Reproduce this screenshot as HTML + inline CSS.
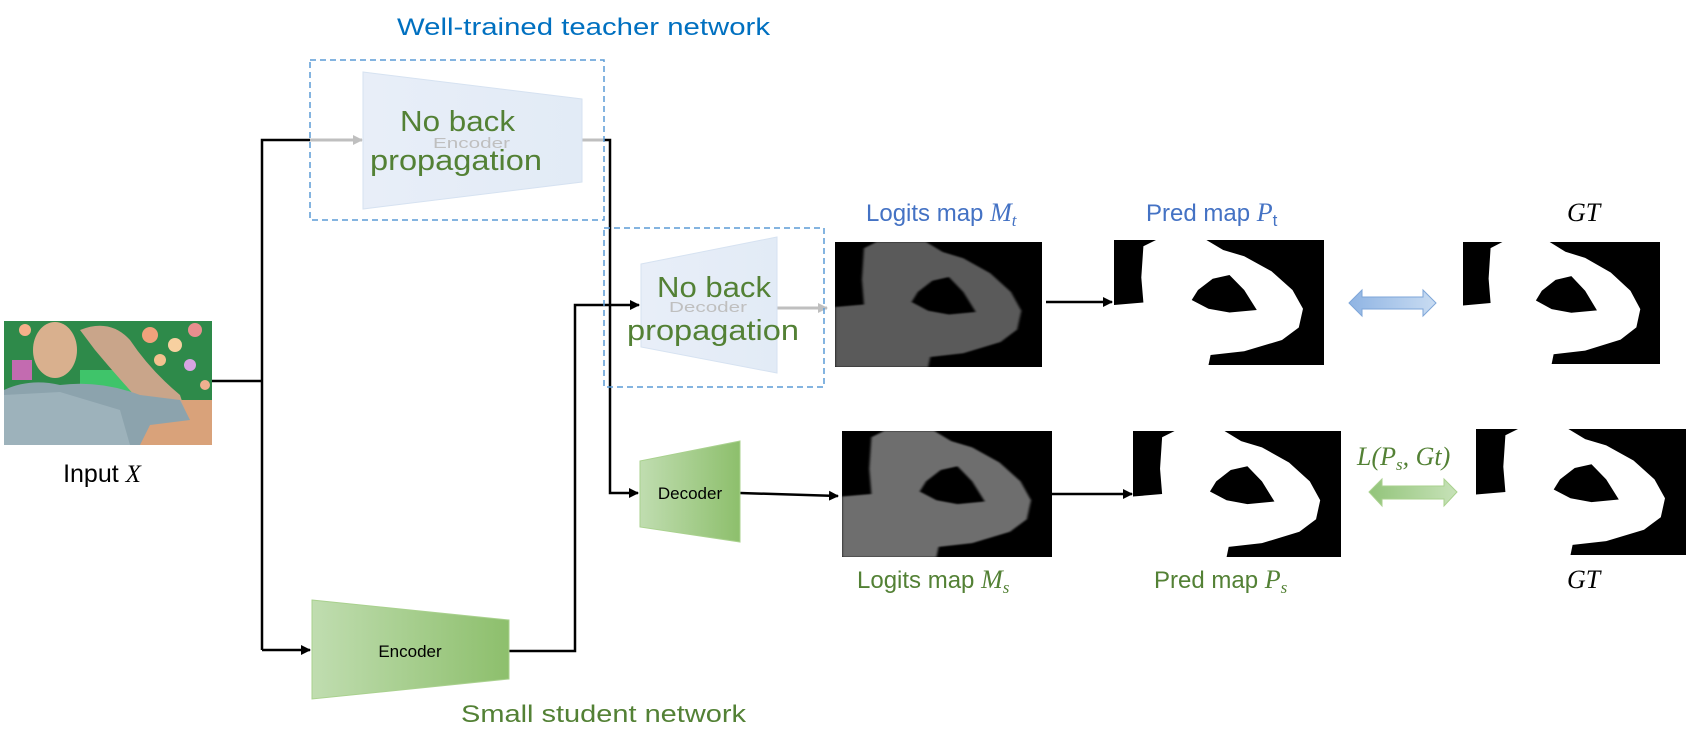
<!DOCTYPE html>
<html><head><meta charset="utf-8"><style>
html,body{margin:0;padding:0;background:#fff;}
svg{display:block;}
text{font-family:"Liberation Sans",sans-serif;}
.m{font-family:"Liberation Serif",serif;font-style:italic;}
</style></head><body>
<svg width="1692" height="746" viewBox="0 0 1692 746" xmlns="http://www.w3.org/2000/svg">
<defs>
<marker id="ab" markerWidth="10" markerHeight="10" refX="9" refY="5" orient="auto" markerUnits="userSpaceOnUse"><path d="M0,0 L10,5 L0,10 Z" fill="#000"/></marker>
<marker id="ag" markerWidth="10" markerHeight="10" refX="9" refY="5" orient="auto" markerUnits="userSpaceOnUse"><path d="M0,0 L10,5 L0,10 Z" fill="#bfbfbf"/></marker>
<linearGradient id="gg" x1="0" x2="1" y1="0" y2="0"><stop offset="0" stop-color="#c0ddb0"/><stop offset="1" stop-color="#8dbf6c"/></linearGradient>
<linearGradient id="bg" x1="0" x2="1" y1="0" y2="0"><stop offset="0" stop-color="#e8eef8"/><stop offset="1" stop-color="#e2ebf6"/></linearGradient>
<linearGradient id="ba" x1="0" x2="1"><stop offset="0" stop-color="#8fb4e3"/><stop offset="1" stop-color="#c9dcf2"/></linearGradient>
<linearGradient id="ga" x1="0" x2="1"><stop offset="0" stop-color="#92c47a"/><stop offset="1" stop-color="#c7e2b8"/></linearGradient>
<filter id="bl"><feGaussianBlur stdDeviation="0.6"/></filter>
<symbol id="wh" viewBox="0 0 100 100" preserveAspectRatio="none">
<path fill-rule="evenodd" d="M0,100 L0,52 L14,50 L13,30 L14,5 L20,0 L44,0 L52,8 L62,13 L75,25 L85,40 L90,55 L88,70 L80,80 L62,89 L46,92 L45,100 Z M37,48 L40,40 L47,31 L55,28 L62,40 L68,56 L55,58 L45,55 Z"/>
</symbol>
</defs>

<!-- title -->
<text x="397" y="35" font-size="24" fill="#0070c0" textLength="373" lengthAdjust="spacingAndGlyphs">Well-trained teacher network</text>

<!-- connectors -->
<polyline points="212,381 262,381" stroke="#000" stroke-width="2.5" fill="none"/>
<polyline points="262,650 262,140 310,140" stroke="#000" stroke-width="2.5" fill="none"/>
<line x1="310" y1="140" x2="362" y2="140" stroke="#bfbfbf" stroke-width="3" marker-end="url(#ag)"/>
<polyline points="262,650 310,650" stroke="#000" stroke-width="2.5" fill="none" marker-end="url(#ab)"/>
<line x1="582" y1="140" x2="604" y2="140" stroke="#bfbfbf" stroke-width="3"/>
<polyline points="604,140 610,140 610,493 638,493" stroke="#000" stroke-width="2.5" fill="none" marker-end="url(#ab)"/>
<polyline points="509,651 575,651 575,305 639,305" stroke="#000" stroke-width="2.5" fill="none" marker-end="url(#ab)"/>
<line x1="777" y1="308" x2="827" y2="308" stroke="#bfbfbf" stroke-width="3" marker-end="url(#ag)"/>
<line x1="740" y1="493" x2="838" y2="496" stroke="#000" stroke-width="2.5" marker-end="url(#ab)"/>
<line x1="1046" y1="302" x2="1112" y2="302" stroke="#000" stroke-width="2.5" marker-end="url(#ab)"/>
<line x1="1052" y1="494" x2="1132" y2="494" stroke="#000" stroke-width="2.5" marker-end="url(#ab)"/>

<!-- teacher encoder -->
<rect x="310" y="60" width="294" height="160" fill="none" stroke="#5b9bd5" stroke-width="1.5" stroke-dasharray="6,4"/>
<polygon points="363,72 582,99 582,182 363,209" fill="url(#bg)" stroke="#d6e2f1" stroke-width="1"/>
<text x="433" y="148" font-size="15" fill="#bfbfbf" textLength="77" lengthAdjust="spacingAndGlyphs">Encoder</text>
<text x="400" y="131" font-size="29" fill="#538135" textLength="115" lengthAdjust="spacingAndGlyphs">No back</text>
<text x="370" y="170" font-size="29" fill="#538135" textLength="172" lengthAdjust="spacingAndGlyphs">propagation</text>

<!-- teacher decoder -->
<rect x="604" y="228" width="220" height="159" fill="none" stroke="#5b9bd5" stroke-width="1.5" stroke-dasharray="6,4"/>
<polygon points="641,264 777,237 777,373 641,347" fill="url(#bg)" stroke="#d6e2f1" stroke-width="1"/>
<text x="669" y="312" font-size="15" fill="#bfbfbf" textLength="78" lengthAdjust="spacingAndGlyphs">Decoder</text>
<text x="657" y="297" font-size="29" fill="#538135" textLength="114" lengthAdjust="spacingAndGlyphs">No back</text>
<text x="627" y="340" font-size="29" fill="#538135" textLength="172" lengthAdjust="spacingAndGlyphs">propagation</text>

<!-- student encoder / decoder -->
<polygon points="312,600 509,620 509,679 312,699" fill="url(#gg)" stroke="#a9d18e"/>
<text x="410" y="657" font-size="17" fill="#000" text-anchor="middle">Encoder</text>
<polygon points="640,461 740,441 740,542 640,527" fill="url(#gg)" stroke="#a9d18e"/>
<text x="690" y="499" font-size="17" fill="#000" text-anchor="middle">Decoder</text>
<text x="461" y="722" font-size="24" fill="#538135" textLength="285" lengthAdjust="spacingAndGlyphs">Small student network</text>

<!-- input image -->
<g>
<rect x="4" y="321" width="208" height="124" fill="#2e8a4a"/>
<rect x="120" y="400" width="92" height="45" fill="#d9a27a"/>
<rect x="80" y="370" width="60" height="30" fill="#3fc46a"/>
<circle cx="150" cy="335" r="8" fill="#f0a27c"/><circle cx="175" cy="345" r="7" fill="#f7d0a0"/><circle cx="195" cy="330" r="7" fill="#e98e8e"/><circle cx="160" cy="360" r="6" fill="#f3c18f"/><circle cx="190" cy="365" r="6" fill="#d7a4e2"/><circle cx="25" cy="330" r="6" fill="#f5b08a"/><circle cx="205" cy="385" r="5" fill="#f0b090"/>
<rect x="12" y="360" width="20" height="20" fill="#c36bb0"/>
<ellipse cx="55" cy="350" rx="22" ry="28" fill="#d9b08e"/>
<path d="M80,330 Q110,318 130,340 Q150,370 180,395 L185,410 L150,412 Q120,380 95,350 Z" fill="#c9a58a"/>
<path d="M4,445 L4,390 Q30,378 60,385 Q100,380 140,395 L180,400 L190,420 L150,425 L140,445 Z" fill="#8ca3ad"/>
<path d="M4,445 L4,395 L60,392 L120,410 L130,445 Z" fill="#a9bcc4" opacity="0.6"/>
</g>
<text x="102" y="482" font-size="25" fill="#000" text-anchor="middle">Input <tspan class="m">X</tspan></text>

<!-- top row images -->
<rect x="835" y="242" width="207" height="125" fill="#000"/>
<svg x="835" y="242" width="207" height="125" viewBox="0 0 100 100" preserveAspectRatio="none"><use href="#wh" width="100" height="100" fill="#5a5a5a" filter="url(#bl)"/></svg>
<rect x="1114" y="240" width="210" height="125" fill="#000"/>
<svg x="1114" y="240" width="210" height="125" viewBox="0 0 100 100" preserveAspectRatio="none"><use href="#wh" width="100" height="100" fill="#fff"/></svg>
<polygon points="1349,303 1362,290 1362,297 1423,297 1423,290 1436,303 1423,316 1423,309 1362,309 1362,316" fill="url(#ba)" stroke="#7ea6d8"/>
<rect x="1463" y="242" width="197" height="122" fill="#000"/>
<svg x="1463" y="242" width="197" height="122" viewBox="0 0 100 100" preserveAspectRatio="none"><use href="#wh" width="100" height="100" fill="#fff"/></svg>

<text x="866" y="221" font-size="24" fill="#4472c4">Logits map <tspan class="m" font-size="26">M</tspan><tspan class="m" font-size="17" dy="5">t</tspan></text>
<text x="1146" y="221" font-size="24" fill="#4472c4">Pred map <tspan class="m" font-size="26">P</tspan><tspan font-size="17" dy="5">t</tspan></text>
<text x="1567" y="221" font-size="26" fill="#000" class="m">GT</text>

<!-- bottom row images -->
<rect x="842" y="431" width="210" height="126" fill="#000"/>
<svg x="842" y="431" width="210" height="126" viewBox="0 0 100 100" preserveAspectRatio="none"><use href="#wh" width="100" height="100" fill="#6e6e6e" filter="url(#bl)"/></svg>
<rect x="1133" y="431" width="208" height="126" fill="#000"/>
<svg x="1133" y="431" width="208" height="126" viewBox="0 0 100 100" preserveAspectRatio="none"><use href="#wh" width="100" height="100" fill="#fff"/></svg>
<polygon points="1369,492 1382,479 1382,486 1444,486 1444,479 1457,492 1444,506 1444,499 1382,499 1382,506" fill="url(#ga)" stroke="#a9d18e"/>
<rect x="1476" y="429" width="210" height="126" fill="#000"/>
<svg x="1476" y="429" width="210" height="126" viewBox="0 0 100 100" preserveAspectRatio="none"><use href="#wh" width="100" height="100" fill="#fff"/></svg>

<text x="1357" y="465" font-size="26" fill="#538135" class="m">L(P<tspan font-size="17" dy="5">s</tspan><tspan dy="-5">, Gt)</tspan></text>
<text x="857" y="588" font-size="24" fill="#538135">Logits map <tspan class="m" font-size="26">M</tspan><tspan class="m" font-size="17" dy="5">s</tspan></text>
<text x="1154" y="588" font-size="24" fill="#538135">Pred map <tspan class="m" font-size="26">P</tspan><tspan class="m" font-size="17" dy="5">s</tspan></text>
<text x="1567" y="588" font-size="26" fill="#000" class="m">GT</text>
</svg>
</body></html>
